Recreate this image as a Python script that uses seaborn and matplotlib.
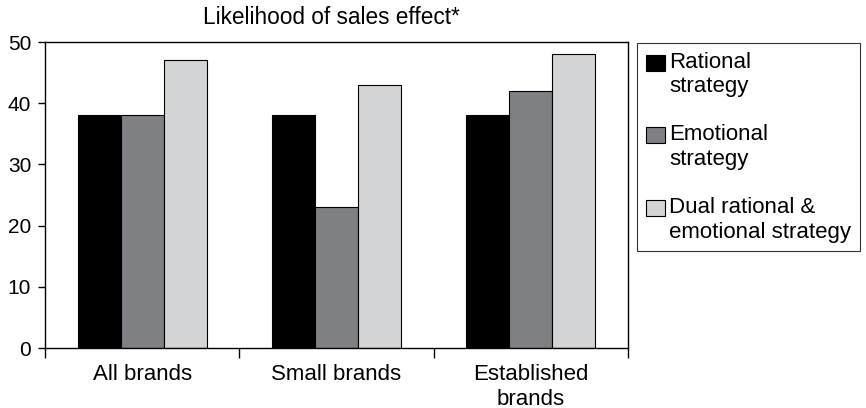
import matplotlib
matplotlib.use("Agg")
import matplotlib.pyplot as plt
import seaborn as sns
import pandas as pd
from matplotlib.patches import Patch

categories = ["All brands", "Small brands", "Established\nbrands"]
strategies = ["Rational\nstrategy", "Emotional\nstrategy", "Dual rational &\nemotional strategy"]
rational = [38, 38, 38]
emotional = [38, 23, 42]
dual = [47, 43, 48]
colors = ["#000000", "#7f8084", "#d3d4d6"]

sns.set_theme(style="white")
plt.rcParams["font.family"] = ["Liberation Sans", "DejaVu Sans"]

df = pd.DataFrame({
    "category": categories * 3,
    "strategy": [strategies[0]] * 3 + [strategies[1]] * 3 + [strategies[2]] * 3,
    "value": rational + emotional + dual,
})

fig = plt.figure(figsize=(8.66, 4.08), dpi=100)
ax = fig.add_axes([0.052, 0.147, 0.673, 0.75])

sns.barplot(data=df, x="category", y="value", hue="strategy",
            palette=colors, width=0.665, edgecolor="black", linewidth=0.8,
            saturation=1, errorbar=None, legend=False, ax=ax)

ax.set_xlim(-0.5, 2.5)
ax.set_ylim(0, 50)
ax.set_yticks(range(0, 51, 10))
ax.set_xlabel("")
ax.set_ylabel("")
ax.tick_params(axis="y", which="major", direction="out", length=5, width=1,
               color="black", labelsize=15, pad=5, left=True)
ax.tick_params(axis="x", which="major", length=0, labelsize=16, pad=11.5)
ax.set_xticks([-0.5, 0.5, 1.5, 2.5], minor=True)
ax.tick_params(axis="x", which="minor", direction="out", length=7, width=1,
               color="black", bottom=True)
for s in ax.spines.values():
    s.set_color("black")
    s.set_linewidth(1)
for lbl in ax.get_xticklabels() + ax.get_yticklabels():
    lbl.set_color("black")
for lbl in ax.get_xticklabels():
    lbl.set_linespacing(1.22)

fig.text(0.383, 0.958, "Likelihood of sales effect*", ha="center", va="center",
         fontsize=16.3, color="black")

handles = [Patch(facecolor=c, edgecolor="black", linewidth=0.8) for c in colors]
leg = fig.legend(handles, strategies, loc="upper left",
                 bbox_to_anchor=(0.7355, 0.895), bbox_transform=fig.transFigure,
                 borderaxespad=0, frameon=True, fancybox=False, fontsize=16,
                 handlelength=0.85, handleheight=0.72, handletextpad=0.2,
                 labelspacing=1.22, borderpad=0.4)
leg.get_frame().set_edgecolor("black")
leg.get_frame().set_linewidth(0.8)
for t in leg.get_texts():
    t.set_color("black")
    t.set_linespacing(1.22)

# Lift each legend swatch so it sits beside the first line of its label
fig.canvas.draw()
for patch, text in zip(leg.get_patches(), leg.get_texts()):
    tb = text.get_window_extent()
    pb = patch.get_window_extent()
    dy_px = (tb.y1 - 3) - pb.y1
    patch.set_y(patch.get_y() + dy_px * 72 / fig.dpi)

fig.savefig("out.png", dpi=100)
